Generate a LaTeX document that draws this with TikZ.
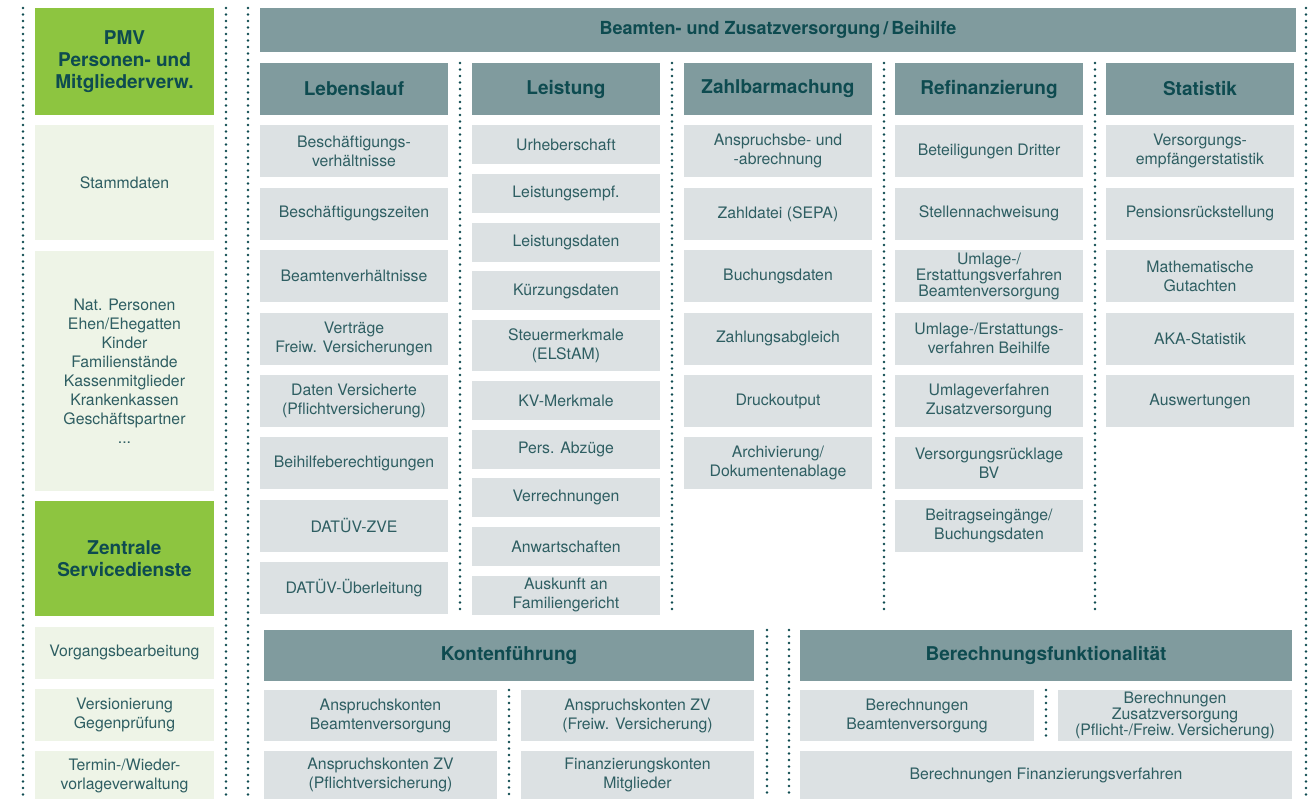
\documentclass[tikz,border=0pt]{standalone}
\usepackage{fontspec}
\setmainfont{TeX Gyre Heros}
\usepackage{xcolor}
\usepackage{tikz}
\usetikzlibrary{positioning}

\definecolor{headgray}{RGB}{128,155,158}
\definecolor{cellgray}{RGB}{220,225,227}
\definecolor{pmvgreen}{RGB}{141,197,64}
\definecolor{palegreen}{RGB}{238,244,231}
\definecolor{darkteal}{RGB}{14,75,80}
\definecolor{softteal}{RGB}{46,94,98}

\begin{document}
\begin{tikzpicture}[x=1pt, y=-1pt,
  node distance=10.4pt and 24pt,
  every node/.style={outer sep=0pt, inner sep=2pt, align=center},
  head/.style={rectangle, fill=headgray, text=darkteal, font=\bfseries\fontsize{19}{22}\selectfont, minimum width=188pt, minimum height=52pt},
  cell/.style={rectangle, fill=cellgray, text=softteal, font=\fontsize{15.8}{19}\selectfont, minimum width=188pt, minimum height=52pt},
  slim/.style={cell, minimum height=39pt},
  tight/.style={font=\fontsize{15.8}{16}\selectfont},
  lead/.style={rectangle, fill=pmvgreen, text=darkteal, font=\bfseries\fontsize{19}{22}\selectfont, minimum width=179pt},
  pale/.style={cell, fill=palegreen, minimum width=179pt},
  sepline/.style={draw=darkteal, line width=2.8pt, line cap=round, dash pattern=on 0pt off 6.5pt}
]
\useasboundingbox (0,0) rectangle (1310,799);

% left column: PMV and central services
\node (pmv) [lead, minimum height=107pt, anchor=north west] at (35,8) {PMV\\Personen- und\\Mitgliederverw.};
\node (stamm) [pale, minimum height=115pt, below=of pmv] {Stammdaten};
\node (natp) [pale, minimum height=240pt, below=of stamm] {Nat. Personen\\Ehen/Ehegatten\\Kinder\\Familienstände\\Kassenmitglieder\\Krankenkassen\\Geschäftspartner\\...};
\node (zsd) [lead, minimum height=115pt, below=of natp] {Zentrale\\Servicedienste};
\node (vorg) [pale, below=of zsd] {Vorgangsbearbeitung};
\node (vers) [pale, below=of vorg] {Versionierung\\Gegenprüfung};
\node (term) [pale, minimum height=50pt, below=of vers] {Termin-/Wieder-\\vorlageverwaltung};

% main header
\node (bzv) [head, font=\bfseries\fontsize{18}{22}\selectfont, minimum width=1036pt, minimum height=44pt, anchor=north west] at (260,8) {Beamten- und Zusatzversorgung\,/\,Beihilfe};

% Lebenslauf
\node (leb) [head, anchor=north west] at (260,63) {Lebenslauf};
\node (leb1) [cell, below=of leb] {Beschäftigungs-\\verhältnisse};
\node (leb2) [cell, below=of leb1] {Beschäftigungszeiten};
\node (leb3) [cell, below=of leb2] {Beamtenverhältnisse};
\node (leb4) [cell, below=of leb3] {Verträge\\Freiw. Versicherungen};
\node (leb5) [cell, below=of leb4] {Daten Versicherte\\(Pflichtversicherung)};
\node (leb6) [cell, below=of leb5] {Beihilfeberechtigungen};
\node (leb7) [cell, below=of leb6] {DATÜV-ZVE};
\node (leb8) [cell, below=of leb7] {DATÜV-Überleitung};

% Leistung
\node (lei) [head, anchor=north west] at (472,63) {Leistung};
\node (lei1) [slim, below=of lei] {Urheberschaft};
\node (lei2) [slim, below=9.7pt of lei1] {Leistungsempf.};
\node (lei3) [slim, below=9.7pt of lei2] {Leistungsdaten};
\node (lei4) [slim, below=9.7pt of lei3] {Kürzungsdaten};
\node (lei5) [cell, minimum height=51pt, below=9.7pt of lei4] {Steuermerkmale\\(ELStAM)};
\node (lei6) [slim, below=9.7pt of lei5] {KV-Merkmale};
\node (lei7) [slim, below=9.7pt of lei6] {Pers. Abzüge};
\node (lei8) [slim, below=9.7pt of lei7] {Verrechnungen};
\node (lei9) [slim, below=9.7pt of lei8] {Anwartschaften};
\node (lei10) [slim, below=9.7pt of lei9] {Auskunft an\\Familiengericht};

% Zahlbarmachung
\node (zbm) [head, anchor=north west] at (684,63) {Zahlbarmachung};
\node (zbm1) [cell, below=of zbm] {Anspruchsbe- und\\-abrechnung};
\node (zbm2) [cell, below=of zbm1] {Zahldatei (SEPA)};
\node (zbm3) [cell, below=of zbm2] {Buchungsdaten};
\node (zbm4) [cell, below=of zbm3] {Zahlungsabgleich};
\node (zbm5) [cell, below=of zbm4] {Druckoutput};
\node (zbm6) [cell, below=of zbm5] {Archivierung/\\Dokumentenablage};

% Refinanzierung
\node (ref) [head, anchor=north west] at (895,63) {Refinanzierung};
\node (ref1) [cell, below=of ref] {Beteiligungen Dritter};
\node (ref2) [cell, below=of ref1] {Stellennachweisung};
\node (ref3) [cell, tight, below=of ref2] {Umlage-/\\Erstattungsverfahren\\Beamtenversorgung};
\node (ref4) [cell, below=of ref3] {Umlage-/Erstattungs-\\verfahren Beihilfe};
\node (ref5) [cell, below=of ref4] {Umlageverfahren\\Zusatzversorgung};
\node (ref6) [cell, below=of ref5] {Versorgungsrücklage\\BV};
\node (ref7) [cell, below=of ref6] {Beitragseingänge/\\Buchungsdaten};

% Statistik
\node (sta) [head, anchor=north west] at (1106,63) {Statistik};
\node (sta1) [cell, below=of sta] {Versorgungs-\\empfängerstatistik};
\node (sta2) [cell, below=of sta1] {Pensionsrückstellung};
\node (sta3) [cell, below=of sta2] {Mathematische\\Gutachten};
\node (sta4) [cell, below=of sta3] {AKA-Statistik};
\node (sta5) [cell, below=of sta4] {Auswertungen};

% Kontenfuehrung
\node (kon) [head, minimum width=490pt, minimum height=51pt, anchor=north west] at (264,630) {Kontenführung};
\node (kon1) [cell, minimum width=233pt, minimum height=51pt, below=9pt of kon.south west, anchor=north west] {Anspruchskonten\\Beamtenversorgung};
\node (kon2) [cell, minimum width=233pt, minimum height=51pt, right=of kon1] {Anspruchskonten ZV\\(Freiw. Versicherung)};
\node (kon3) [cell, minimum width=233pt, minimum height=48pt, below=of kon1] {Anspruchskonten ZV\\(Pflichtversicherung)};
\node (kon4) [cell, minimum width=233pt, minimum height=48pt, below=of kon2] {Finanzierungskonten\\Mitglieder};

% Berechnungsfunktionalitaet
\node (ber) [head, minimum width=492pt, minimum height=51pt, anchor=north west] at (800,630) {Berechnungsfunktionalität};
\node (ber1) [cell, minimum width=234pt, minimum height=51pt, below=9pt of ber.south west, anchor=north west] {Berechnungen\\Beamtenversorgung};
\node (ber2) [cell, tight, minimum width=234pt, minimum height=51pt, right=of ber1] {Berechnungen\\Zusatzversorgung\\(Pflicht-/Freiw.\,Versicherung)};
\node (ber3) [cell, minimum width=492pt, minimum height=48pt, below=of ber1.south west, anchor=north west] {Berechnungen Finanzierungsverfahren};

% dotted separators
\draw[sepline] (23,8) -- (23,799);
\draw[sepline] (226,8) -- (226,799);
\draw[sepline] (248,8) -- (248,799);
\draw[sepline] (1306,8) -- (1306,799);
\draw[sepline] (460,63) -- (460,615);
\draw[sepline] (672,63) -- (672,615);
\draw[sepline] (884,63) -- (884,615);
\draw[sepline] (1095,63) -- (1095,615);
\draw[sepline] (767,630) -- (767,799);
\draw[sepline] (789,630) -- (789,799);
\draw[sepline] (509,690) -- (509,799);
\draw[sepline] (1046,690) -- (1046,741);
\end{tikzpicture}
\end{document}
